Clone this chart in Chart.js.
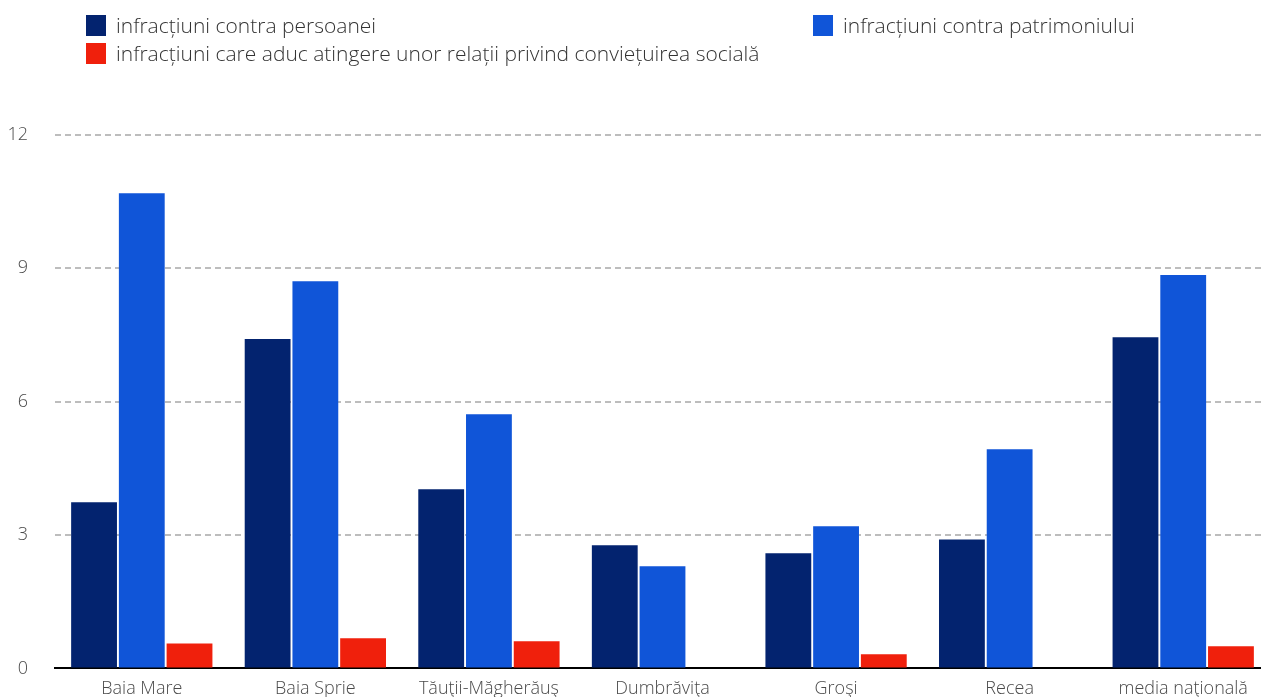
<!DOCTYPE html>
<html>
<head>
<meta charset="utf-8">
<script src="https://cdn.jsdelivr.net/npm/chart.js@4/dist/chart.umd.min.js"></script>
<style>
  html, body { margin: 0; padding: 0; background: #fff; overflow: hidden; width: 1261px; height: 697px; }
  #wrap { position: absolute; left: 0; top: 0; width: 1270px; height: 710px; }
  #legend { position: absolute; left: 0; top: 0; width: 1261px; height: 70px; font-family: "Open Sans", sans-serif; font-weight: 300; font-size: 21px; line-height: 24px; color: #333; }
  .item { position: absolute; display: flex; align-items: center; white-space: nowrap; }
  .sw { width: 20px; height: 21px; margin-right: 10px; }
</style>
</head>
<body>
<div id="wrap"><canvas id="c" width="1270" height="710"></canvas></div>
<div id="legend"></div>
<script>
const categories = ["Baia Mare", "Baia Sprie", "Tăuţii-Măgherăuş", "Dumbrăviţa", "Groşi", "Recea", "media naţională"];
const seriesNames = [
  "infracțiuni contra persoanei",
  "infracțiuni contra patrimoniului",
  "infracțiuni care aduc atingere unor relații privind conviețuirea socială"
];
const persoanei = [3.74, 7.41, 4.03, 2.77, 2.59, 2.90, 7.45];
const patrimoniului = [10.69, 8.71, 5.72, 2.30, 3.20, 4.93, 8.85];
const convietuire = [0.56, 0.68, 0.61, 0, 0.32, 0, 0.50];
const yTicks = [0, 3, 6, 9, 12];
const colors = ["#03236f", "#1055d8", "#f0200c"];

const font = "'Open Sans', sans-serif";
const chart = new Chart(document.getElementById('c'), {
  type: 'bar',
  data: {
    labels: categories,
    datasets: [
      { label: seriesNames[0], data: persoanei, backgroundColor: colors[0] },
      { label: seriesNames[1], data: patrimoniului, backgroundColor: colors[1] },
      { label: seriesNames[2], data: convietuire, backgroundColor: colors[2] }
    ]
  },
  options: {
    responsive: false,
    animation: false,
    devicePixelRatio: 1,
    layout: { padding: { top: 135, left: 0, right: 0, bottom: 0 } },
    datasets: { bar: { categoryPercentage: 0.825, barPercentage: 0.96 } },
    plugins: { legend: { display: false }, tooltip: { enabled: false } },
    scales: {
      x: {
        grid: { display: false, drawTicks: false },
        border: { display: true, color: '#000', width: 2 },
        ticks: { color: '#4a4a4a', font: { family: font, size: 18, weight: 300 }, padding: 10 }
      },
      y: {
        min: 0, max: 12,
        afterBuildTicks: s => { s.ticks = yTicks.map(v => ({ value: v })); },
        grid: {
          drawTicks: false,
          color: ctx => ctx.tick && ctx.tick.value === 0 ? 'rgba(0,0,0,0)' : '#bdbdbd',
          lineWidth: 2
        },
        border: { display: false, dash: [6, 4] },
        ticks: { color: '#4a4a4a', font: { family: font, size: 18, weight: 300 }, padding: 27 },
        afterFit: s => { s.width = 55; }
      }
    }
  }
});

const legend = document.getElementById('legend');
const pos = [[86, 13], [813, 13], [86, 41]];
chart.data.datasets.forEach((ds, i) => {
  const d = document.createElement('div');
  d.className = 'item';
  d.style.left = pos[i][0] + 'px';
  d.style.top = pos[i][1] + 'px';
  const sw = document.createElement('div');
  sw.className = 'sw';
  sw.style.background = ds.backgroundColor;
  const t = document.createElement('span');
  t.textContent = ds.label;
  d.appendChild(sw); d.appendChild(t);
  legend.appendChild(d);
});
</script>
</body>
</html>
